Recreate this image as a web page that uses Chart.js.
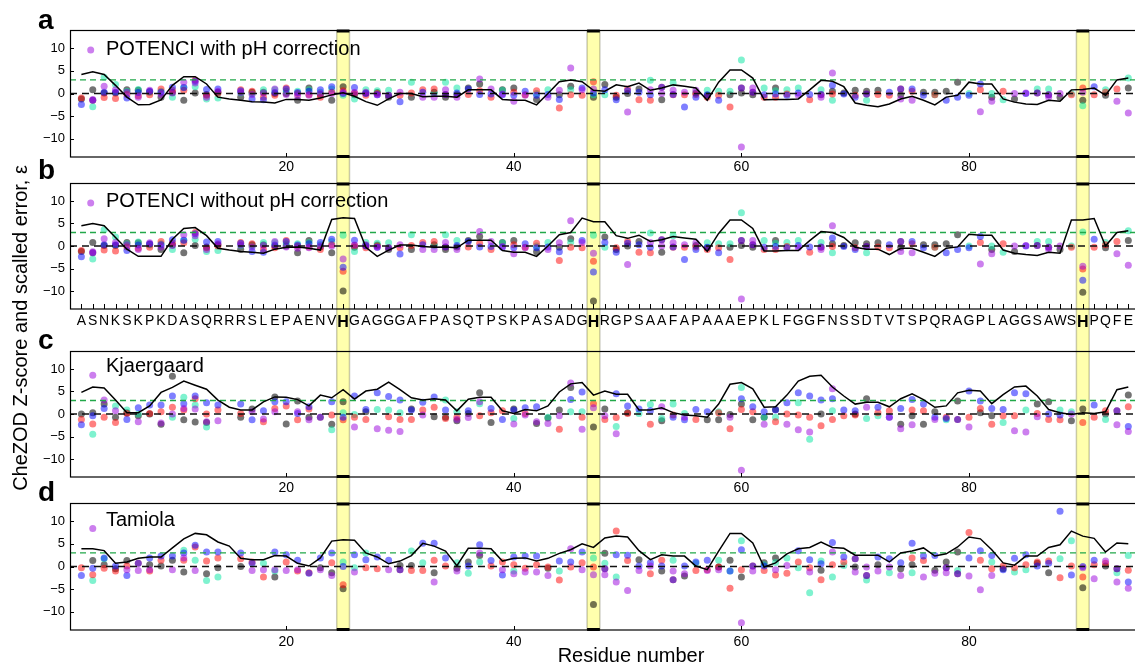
<!DOCTYPE html>
<html lang="en">
<head>
<meta charset="UTF-8">
<title>CheZOD Z-scores and scaled error</title>
<script src="https://cdn.jsdelivr.net/npm/chart.js"></script>
<style>
  html, body { margin: 0; padding: 0; background: #fff; }
  body { width: 1135px; height: 665px; position: relative; overflow: hidden;
         font-family: 'Liberation Sans', Arial, Helvetica, sans-serif; color: #000; }
  canvas { position: absolute; left: 0; }
  .tag { position: absolute; left: 38px; font-size: 28px; font-weight: bold; line-height: 1; }
  #ylab { position: absolute; left: 20px; top: 328px; font-size: 20px; line-height: 1; white-space: nowrap;
          transform: translate(-50%, -50%) rotate(-90deg); }
  #xlab { position: absolute; left: 631px; top: 645px; font-size: 20px; line-height: 1; white-space: nowrap;
          transform: translateX(-50%); }
</style>
</head>
<body>
<canvas id="pA" width="1140" height="172" style="top:0px"></canvas>
<canvas id="pB" width="1140" height="163" style="top:172px"></canvas>
<canvas id="pC" width="1140" height="162" style="top:335px"></canvas>
<canvas id="pD" width="1140" height="168" style="top:497px"></canvas>

<div class="tag" style="top:6px">a</div>
<div class="tag" style="top:156px">b</div>
<div class="tag" style="top:326px">c</div>
<div class="tag" style="top:478px">d</div>
<div id="ylab">CheZOD Z-score and scalled error, ε</div>
<div id="xlab">Residue number</div>

<script>
const _ = null;

// residues 2..94
const sequence = "ASNKSKPKDASQRRRSLEPAENVHGAGGGAFPASQTPSKPASADGHRGPSAAFAPAAAEPKLFGGFNSSDTVTSPQRAGPLAGGSAWSHPQFE";
const firstResidue = 2;
const hisResidues = [25, 47, 90];
const xTicks = [20, 40, 60, 80];
const yTicks = [-10, -5, 0, 5, 10];
const zeroLevel = 0;
const cutoffLevel = 3;

// a: POTENCI with pH correction
const phViolet = [
  _, -1.3, 1.6, 0.8, 0.3, -0.8, 0.7, -0.2, 0.1, 2.5,
  2.3, -0.8, 0.5, _, 0.2, -0.2, 0.1, 1.0, -0.2, -0.5,
  -0.4, 0.0, 0.0, 0.3, 0.2, 0.3, -0.3, _, 0.3, _,
  -0.8, -0.8, 0.8, -0.8, _, 3.2, 1.0, -0.1, -1.7, -0.4,
  _, -0.8, 0.7, 5.6, 0.8, 1.0, _, _, -4.1, _,
  0.8, 0.0, 0.7, 0.3, 0.7, _, _, _, -11.8, 1.2,
  _, _, _, -0.4, _, -0.8, 4.5, _, _, _,
  _, _, -1.2, -1.5, _, _, _, _, _, -4.0,
  -1.7, _, 0.0, 0.1, _, -0.8, 0.0, _, 0.3, _,
  _, -1.7, -4.3];
const phBlue = [
  -2.4, -1.5, 0.3, 0.3, -1.0, 0.2, 0.5, 0.3, 1.4, 1.3,
  2.7, 0.9, 1.0, _, 0.6, -1.2, -1.4, 0.2, 1.0, 0.2,
  0.5, 0.8, 1.5, 0.0, 1.3, 0.0, -0.3, -0.4, -1.8, _,
  0.3, _, -0.2, 0.1, 1.0, -0.2, -0.1, -0.3, -0.4, 0.5,
  -0.4, -0.2, -1.3, _, 1.2, 0.1, 0.8, -1.4, 0.6, 0.3,
  -0.3, 1.4, -0.2, -3.0, -0.8, -0.3, -1.5, _, 1.2, 0.3,
  -0.3, -0.1, -0.4, 0.1, -0.2, -0.2, 1.8, -0.1, -0.8, -0.1,
  _, 0.3, 1.0, 1.0, -0.4, _, -1.5, -0.8, -0.4, 2.1,
  _, _, _, 0.0, 0.1, -0.3, _, _, _, 1.5,
  _, _, _];
const phRed = [
  -1.0, -1.5, -0.9, -1.1, -0.2, -0.5, -0.3, 1.0, 0.7, 0.7,
  3.0, -0.4, 0.0, _, 0.8, 0.5, -0.8, -0.4, 1.2, 0.0,
  -0.2, -0.8, 0.3, 0.6, 0.1, -0.4, 0.0, -0.4, -0.4, 0.1,
  0.8, 1.0, -0.2, _, -0.2, 0.6, -0.8, _, 0.3, -0.3,
  0.6, _, -3.2, -0.3, -0.4, 2.6, _, -0.4, 1.0, -1.4,
  -1.5, 1.4, -0.3, -0.3, -0.2, -0.8, -0.4, -3.0, 1.2, 0.3,
  -0.8, -0.8, -0.1, _, -1.4, -0.3, -0.1, _, -0.4, -0.1,
  -0.2, -0.4, 1.0, 0.5, _, -0.3, _, _, _, 0.8,
  _, 0.5, _, _, 0.1, -0.3, _, -0.3, 1.2, -0.3,
  0.3, 1.0, _];
const phAqua = [
  _, -2.9, 3.6, 2.0, 0.5, 0.9, 0.2, 0.5, -0.8, 1.3,
  1.5, -1.2, -1.0, _, 0.1, 0.0, 0.8, 0.8, 0.5, 0.5,
  0.8, 0.3, 1.0, -0.4, -1.2, 0.8, 0.6, 0.7, _, 2.5,
  _, 0.0, 2.5, 1.2, _, _, _, 0.7, _, _,
  0.0, 0.8, _, 0.8, _, -0.3, -0.3, _, _, _,
  2.9, _, 2.3, _, _, 0.7, 0.5, 0.5, 7.4, _,
  1.2, 0.6, 0.8, 1.2, _, 0.8, -1.5, _, _, -1.5,
  _, _, _, _, _, -0.3, _, _, 0.0, _,
  0.0, -1.4, _, _, 1.0, 1.0, _, 0.0, -2.7, _,
  0.8, _, 3.4];
const phGrey = [
  -1.2, 0.8, 0.1, 0.1, 0.8, 0.7, 0.4, -0.8, 0.2, -1.5,
  0.1, -0.2, 0.3, _, -0.8, 0.3, 0.3, 0.0, 0.0, -1.5,
  1.2, -0.2, -1.5, 1.5, -0.3, 0.1, 0.2, -0.8, _, -0.8,
  _, 0.3, -0.8, -0.2, 1.2, 2.1, _, 0.8, 1.2, _,
  -1.3, _, -0.3, 1.6, _, -0.8, 2.0, -0.8, 0.0, 1.0,
  _, -1.4, _, _, 0.1, -0.4, _, -0.3, 0.1, -0.3,
  _, 1.2, _, _, _, _, 0.5, 0.1, 0.7, 0.5,
  0.7, _, -0.3, _, 0.3, 0.3, 0.5, 2.5, _, _,
  -0.8, _, -1.2, _, _, _, -0.8, _, -1.5, _,
  -0.4, _, 1.2];
const linePH = [
  4.2, 4.8, 4.2, 1.8, -0.8, -2.5, -2.4, -1.4, 1.8, 3.7,
  3.7, 2.1, -0.8, -1.2, -1.5, -1.8, -1.9, -2.1, -1.3, -1.3,
  -1.5, -1.0, -0.3, 0.15, -0.6, -1.8, -2.6, -1.2, 0.0, 0.0,
  -0.7, -0.6, -0.6, -0.8, 0.8, 0.8, 0.8, -1.3, -1.5, -1.5,
  -2.5, 0.0, 2.6, 3.0, 2.6, 0.7, 0.5, 1.9, 1.5, 2.3,
  0.7, 1.2, 1.9, 1.6, 1.2, -1.5, 2.5, 5.2, 5.2, 3.4,
  -1.4, -1.3, -1.3, -1.2, 0.8, 2.9, 2.7, 1.5, -2.1, -2.6,
  -2.9, -2.3, -1.2, -0.6, -1.5, -2.5, -0.8, -0.4, 2.5, 2.1,
  2.1, -1.2, -1.9, -2.3, -2.4, -1.5, -1.7, 0.8, 0.9, 1.2,
  -0.4, 3.0, 3.4];

// b: POTENCI without pH correction (same as a except at the histidines)
const noPhHisViolet = [-2.9, -1.6, -4.5];
const noPhHisBlue = [-4.7, -5.8, -7.6];
const noPhHisRed = [-5.6, -3.4, -5.1];
const noPhHisAqua = [2.4, 2.4, 3.1];
const noPhHisGrey = [-10.0, -12.2, -10.3];
const lineNoPH = [
  4.5, 5.0, 4.5, 1.9, -0.7, -2.3, -2.3, -2.3, 1.5, 3.9,
  4.1, 2.3, -0.5, -0.9, -1.2, -1.4, -1.6, -0.7, -0.3, -0.2,
  -0.5, -0.9, 5.9, 6.3, 6.1, -0.3, -2.3, -0.9, 0.2, 0.2,
  -0.1, -0.3, -0.2, -0.4, 1.3, 1.3, 1.3, -1.0, -1.4, -1.4,
  -2.3, 0.0, 2.5, 3.0, 6.2, 5.4, 5.4, 2.3, 1.7, 2.4,
  1.0, 1.4, 2.1, 1.8, 1.5, -1.2, 2.8, 5.8, 5.8, 3.9,
  -1.1, -1.1, -1.0, -1.0, 1.2, 3.2, 3.0, 1.9, -0.3, -0.7,
  -0.7, -1.9, -0.5, -0.5, -1.4, -2.3, -0.5, -0.2, 2.6, 2.4,
  2.4, -0.9, -1.6, -1.9, -2.1, -1.4, -1.6, 5.8, 5.8, 6.1,
  0.0, 3.0, 3.4];

// c: Kjaergaard
const kjViolet = [
  _, 8.6, 3.1, 0.7, _, -1.7, _, -2.0, 0.0, 1.2,
  1.1, -1.7, -1.5, _, _, 0.5, -1.1, 0.5, _, 0.5,
  -1.3, _, _, _, -2.9, _, -3.3, -3.6, -3.9, _,
  -0.2, _, _, -1.2, -0.8, 2.7, _, _, -2.2, -0.2,
  -1.7, -2.1, -0.4, 6.9, -3.4, 1.4, -0.4, -4.4, _, _,
  _, 1.6, _, -0.7, _, _, _, -0.7, -12.5, _,
  -2.3, _, -2.3, -3.5, -4.0, _, 5.6, _, _, 1.5,
  _, -0.7, -3.3, -2.4, _, -1.2, _, _, -2.9, _,
  _, _, -3.7, -4.0, -0.6, _, _, 0.0, _, _,
  _, -2.4, -3.9];
const kjBlue = [
  -2.4, -0.4, 1.2, _, -1.2, 1.4, 2.0, 2.0, 4.0, 2.3,
  4.0, 2.5, 2.0, _, 2.2, -1.3, 0.7, 2.7, 2.7, 0.1,
  1.6, -0.7, 2.7, -0.7, 4.0, 1.0, 4.7, 3.9, 3.1, 0.9,
  2.6, 3.8, 0.9, _, 0.7, _, 1.2, -1.2, 0.9, 1.4,
  1.6, _, _, 3.2, 4.9, _, _, 4.5, 1.8, 1.1,
  0.7, _, -0.7, -1.3, 1.0, 0.5, _, _, 3.4, 1.6,
  0.5, 0.9, 2.5, 4.7, 4.0, 3.1, 3.4, 0.9, 0.7, _,
  1.5, -0.7, 1.2, 3.2, 2.2, -0.7, -1.0, -1.2, 5.1, 2.9,
  1.2, 1.0, 4.7, 4.5, _, 0.0, -0.2, _, _, 2.0,
  _, 0.7, -2.8];
const kjRed = [
  -1.2, -2.2, -0.7, -1.9, 0.1, _, 0.1, 0.5, 1.5, 0.9,
  3.4, 0.0, 0.9, _, 0.1, _, -1.7, 1.2, 1.8, -1.3,
  1.1, -0.7, -0.2, -1.3, -0.7, -1.2, _, -0.6, -1.2, -1.2,
  0.9, 1.5, -1.0, -0.7, _, -0.4, 0.3, 0.7, _, 0.1,
  _, _, -3.4, _, -0.7, 2.3, -1.2, -0.8, 0.1, _,
  -2.3, _, -0.2, _, -1.2, _, 0.3, -3.3, 1.0, 0.5,
  _, -1.7, 0.0, -0.2, -0.7, -2.6, -1.2, -0.4, -0.2, _,
  0.3, 0.7, _, 0.9, 0.7, _, -0.7, -1.2, -0.7, 1.2,
  -2.3, -0.4, -0.4, _, 0.1, -1.2, -1.3, _, -1.9, -0.7,
  0.7, 0.7, 1.6];
const kjAqua = [
  _, -4.5, _, 1.8, 0.9, 0.0, _, _, -0.7, 3.7,
  2.0, -2.9, _, _, _, _, _, _, _, _,
  _, _, -3.5, 0.3, -0.1, _, 1.0, 0.9, 0.3, _,
  _, _, 3.1, 0.5, _, 2.3, _, _, -1.0, _,
  _, -0.7, _, 0.5, 0.5, _, _, -2.8, _, 0.1,
  2.1, -1.0, 2.2, 0.1, _, _, 0.5, _, 5.9, _,
  -0.7, -0.7, _, 2.5, -5.6, _, 0.7, _, _, -1.0,
  -0.4, _, _, _, _, _, -1.3, _, _, _,
  _, -1.9, _, 0.9, _, _, 0.9, 0.5, _, _,
  -1.2, _, _];
const kjGrey = [
  0.0, 0.3, 2.2, -0.7, 0.3, -0.4, 0.0, -2.3, 8.4, -1.3,
  -1.8, -1.9, _, _, -0.7, 1.1, _, 3.8, -2.2, 2.9,
  -0.7, _, -2.3, 2.7, _, 0.5, _, _, _, 1.1,
  _, -0.6, -0.7, -1.5, 0.1, 4.7, -1.9, _, 1.1, _,
  -2.1, -0.9, 0.9, 5.9, _, -2.9, 1.1, _, 0.3, _,
  _, -1.5, _, _, _, -1.3, -1.3, -0.1, 2.2, -1.3,
  -0.7, 1.0, _, _, _, 0.0, _, _, 0.0, 3.4,
  _, _, -2.3, -0.4, -2.3, 0.5, _, 2.9, _, 0.3,
  -0.4, _, _, _, 2.2, 2.7, _, -1.5, 1.1, _,
  0.0, _, 4.2];
const lineKj = [
  4.8, 6.0, 5.8, 3.1, 0.3, 0.3, 1.8, 4.8, 5.9, 7.3,
  6.4, 5.5, 3.1, 1.5, 0.9, 0.9, 2.7, 3.8, 3.7, 3.2,
  1.8, 4.2, 3.6, 5.4, 3.3, 5.1, 5.5, 7.1, 5.4, 3.6,
  3.1, 3.4, 3.1, 0.7, 3.3, 3.7, 3.7, 0.7, 0.1, 1.0,
  0.7, 1.8, 4.9, 6.7, 7.0, 4.2, 5.1, 4.4, 4.4, 0.9,
  0.9, 1.4, 0.3, -0.2, -0.4, -0.7, 2.2, 6.6, 7.0, 5.6,
  1.5, 1.6, 4.2, 7.3, 8.4, 8.6, 6.0, 4.0, 2.2, 2.6,
  2.6, 1.6, 3.4, 4.5, 3.2, 1.5, 1.8, 4.7, 5.3, 5.1,
  2.3, 4.3, 6.0, 6.2, 4.0, 1.0, 0.3, -0.1, 0.3, 0.1,
  0.5, 5.4, 6.0];

// d: Tamiola
const tmViolet = [
  _, 8.4, _, _, -0.7, -0.9, -0.7, _, -0.7, 1.9,
  -0.9, _, _, _, _, -0.9, -0.7, -0.7, -0.9, -0.7,
  _, -0.7, -2.0, _, -1.2, _, _, -0.7, _, _,
  _, -3.4, _, -1.0, _, 3.0, _, -0.7, -1.6, -1.2,
  -1.2, -2.0, _, 3.9, -0.7, -1.8, -1.8, -3.4, -5.3, -0.9,
  0.1, _, -1.0, -1.6, _, -0.9, -0.7, _, -12.4, -1.0,
  _, -0.7, 0.2, _, -1.2, _, 3.2, _, -1.2, -0.1,
  -1.0, -0.1, -2.0, _, -2.3, -1.5, -1.4, _, -2.1, -5.1,
  -2.0, _, _, _, _, _, _, _, -0.3, -2.7,
  1.2, -3.4, -4.8];
const tmBlue = [
  -2.0, -0.4, 1.9, 0.1, -2.0, 0.7, 1.9, 2.3, 2.3, 3.0,
  4.7, 3.2, 3.2, _, 3.0, 0.7, _, 3.2, 2.6, 1.4,
  -1.5, 1.9, 3.0, 0.0, 2.6, 1.5, 2.1, 1.4, -0.7, _,
  5.1, 5.1, 1.9, _, 0.1, 4.8, 1.3, -1.9, 2.1, 2.3,
  2.3, _, 1.2, 1.0, 3.2, _, -0.5, 2.6, 2.5, 0.1,
  0.8, 0.1, -2.9, 0.1, 1.0, 1.4, _, -1.0, 3.7, 0.1,
  0.1, _, _, 3.5, 1.5, 0.6, 5.3, 2.1, 1.7, -2.0,
  2.1, 1.7, 0.8, 5.1, 2.3, 2.4, -0.3, -1.6, 1.9, 3.5,
  2.4, -0.7, 1.8, 2.6, 0.1, 0.7, 12.2, -1.9, 0.0, 1.4,
  _, -0.5, -3.4];
const tmRed = [
  -0.3, -1.8, -0.4, -1.0, 0.1, 0.7, -1.0, 1.4, _, 1.4,
  4.3, 1.2, 1.9, _, 1.7, 1.0, -2.3, _, 1.0, -1.0,
  -1.4, _, 0.8, -4.0, _, -0.3, -0.5, _, -0.7, -0.9,
  -0.9, 1.4, 0.1, _, _, _, 0.1, 1.0, 0.4, -0.4,
  0.4, -0.1, -3.0, -0.1, 0.8, -0.1, -0.5, 7.8, 1.3, _,
  -1.6, 1.4, -2.9, _, -0.9, -0.7, -0.1, -4.8, -0.7, 0.1,
  -0.9, -1.9, -1.5, 1.0, -0.3, -2.9, 0.4, 1.0, 1.7, -2.0,
  _, _, _, 1.9, 1.3, _, -0.3, -1.6, 7.5, 1.4,
  -0.5, 0.1, -0.3, 0.4, 1.0, 1.2, -2.5, 0.1, -2.3, 0.4,
  0.7, -0.5, -0.8];
const tmAqua = [
  _, -3.1, 1.7, _, _, _, _, _, _, 3.6,
  1.4, -3.1, -2.3, _, _, _, 0.7, -1.0, _, _,
  _, _, _, 1.0, -0.3, 3.0, _, _, _, 3.4,
  0.8, _, _, 0.8, -1.5, 1.0, _, _, -1.0, _,
  _, _, -1.0, _, _, 1.9, 0.7, -2.3, _, _,
  _, _, 1.4, _, 0.7, _, 1.4, -1.0, 5.7, _,
  0.4, 0.9, 1.9, -0.3, -5.8, 1.2, -2.3, 0.2, _, -3.0,
  _, -1.4, _, -1.4, _, _, _, -0.9, _, _,
  1.0, _, -1.2, -0.7, _, _, 1.7, 5.7, _, _,
  _, -1.4, 2.4];
const tmGrey = [
  _, 1.3, 0.4, -0.5, 1.3, _, 0.4, 0.1, 1.4, -1.2,
  _, -1.6, -0.3, _, 0.0, _, _, -2.3, _, _,
  _, -0.3, -1.4, -4.9, _, _, _, _, 0.2, 0.2,
  _, -1.4, _, -0.4, 1.0, 2.4, _, _, _, _,
  _, -0.4, _, _, _, -8.4, 2.9, _, _, 1.5,
  _, -1.0, _, -2.1, _, _, -0.1, 1.4, -2.3, _,
  0.8, 1.9, _, _, _, -0.8, _, _, -0.1, _,
  0.4, _, -0.5, 0.4, _, -0.8, 1.0, 3.2, _, _,
  _, -0.5, _, _, 0.7, -1.4, _, _, -4.7, _,
  0.1, _, _];
const lineTm = [
  3.9, 3.9, 3.5, 0.7, 1.0, 1.8, 2.1, 2.1, 4.1, 6.1,
  7.3, 7.0, 5.4, 4.5, 1.8, 1.5, 1.5, 2.4, 2.3, 0.7,
  0.1, 1.9, 5.6, 5.9, 5.8, 3.0, 2.1, 0.6, 1.2, 2.4,
  5.1, 4.5, 3.4, 0.2, 4.0, 4.0, 3.9, 1.2, 1.8, 1.9,
  1.2, 1.8, 2.9, 3.7, 5.0, 4.2, 6.3, 6.7, 6.5, 3.5,
  1.5, 2.6, 2.3, 2.3, 0.1, -0.7, 3.4, 7.3, 7.3, 5.2,
  -0.1, 0.8, 2.8, 3.9, 4.2, 5.4, 4.2, 4.0, 2.5, 2.5,
  2.5, 1.0, 3.0, 3.4, 4.1, 2.3, 2.8, 4.3, 6.5, 6.1,
  3.7, 0.8, 0.3, 2.3, 2.3, 4.2, 4.8, 7.8, 6.7, 6.2,
  3.2, 5.2, 5.0];

const seriesColors = ['rgba(153,0,221,0.5)', 'rgba(0,0,255,0.5)', 'rgba(255,0,0,0.5)',
                      'rgba(0,230,160,0.5)', 'rgba(0,0,0,0.55)'];
const FONT = "'Liberation Sans', Arial, Helvetica, sans-serif";
const xMin = 1, xMax = 94.72, yMin = -14, yMax = 14;
const bandHalf = 0.56;

function withHis(base, his) {
  const out = base.slice();
  hisResidues.forEach((r, i) => { out[r - firstResidue] = his[i]; });
  return out;
}
function toPoints(values) {
  const pts = [];
  values.forEach((v, i) => { if (v !== null) pts.push({ x: firstResidue + i, y: v }); });
  return pts;
}

const panelDecor = {
  id: 'panelDecor',
  beforeDraw(chart, args, o) {
    const { ctx, chartArea: a, scales: { x } } = chart;
    const y0 = o.bandFromArea ? a.top : 0;
    const y1 = o.bandToArea ? a.bottom : chart.height;
    ctx.save();
    hisResidues.forEach(r => {
      const l = x.getPixelForValue(r - bandHalf);
      const w = x.getPixelForValue(r + bandHalf) - l;
      ctx.fillStyle = 'rgba(255,255,0,0.32)';
      ctx.fillRect(l, y0, w, y1 - y0);
      ctx.strokeStyle = 'rgba(80,80,50,0.3)';
      ctx.lineWidth = 1.5;
      ctx.beginPath();
      ctx.moveTo(l, y0); ctx.lineTo(l, y1);
      ctx.moveTo(l + w, y0); ctx.lineTo(l + w, y1);
      ctx.stroke();
    });
    ctx.restore();
  },
  afterDraw(chart, args, o) {
    const { ctx, chartArea: a, scales: { x, y } } = chart;
    ctx.save();
    ctx.strokeStyle = '#000';
    ctx.lineWidth = 1.2;
    ctx.strokeRect(a.left + 0.5, a.top + 0.5, a.width + 10, a.height - 0.5);
    // inward tick marks
    ctx.lineWidth = 1;
    ctx.beginPath();
    x.ticks.forEach(t => {
      const px = Math.round(x.getPixelForValue(t.value)) + 0.5;
      ctx.moveTo(px, a.bottom); ctx.lineTo(px, a.bottom - o.tickLen);
    });
    y.ticks.forEach(t => {
      const py = Math.round(y.getPixelForValue(t.value)) + 0.5;
      ctx.moveTo(a.left, py); ctx.lineTo(a.left + 4, py);
    });
    ctx.stroke();
    // dark caps of the histidine bands on the spines
    ctx.fillStyle = '#000';
    hisResidues.forEach(r => {
      const l = x.getPixelForValue(r - bandHalf);
      const w = x.getPixelForValue(r + bandHalf) - l;
      if (o.capTop) ctx.fillRect(l, a.top - 0.5, w, 3);
      if (o.capBottom) ctx.fillRect(l, a.bottom - 2, w, 3);
    });
    // panel legend
    ctx.font = '20px ' + FONT;
    ctx.textBaseline = 'alphabetic';
    ctx.fillText(o.label, 106, a.top + o.labelDy);
    if (o.marker) {
      ctx.fillStyle = seriesColors[0];
      ctx.beginPath();
      ctx.arc(90.7, a.top + o.marker, 3.5, 0, Math.PI * 2);
      ctx.fill();
    }
    ctx.restore();
  }
};

const panels = [
  { id: 'pA', padTop: 30, axisH: 15, tickPad: 2, tickLen: 4, seq: false,
    label: 'POTENCI with pH correction', labelDy: 25, marker: 20,
    capTop: true, capBottom: true, bandFromArea: true, bandToArea: false,
    series: [phViolet, phBlue, phRed, phAqua, phGrey], line: linePH },
  { id: 'pB', padTop: 11, axisH: 26, tickPad: 4, tickLen: 5, seq: true,
    label: 'POTENCI without pH correction', labelDy: 24, marker: 20,
    capTop: true, capBottom: false, bandFromArea: false, bandToArea: false,
    series: [withHis(phViolet, noPhHisViolet), withHis(phBlue, noPhHisBlue), withHis(phRed, noPhHisRed),
             withHis(phAqua, noPhHisAqua), withHis(phGrey, noPhHisGrey)], line: lineNoPH },
  { id: 'pC', padTop: 16, axisH: 20, tickPad: 3, tickLen: 4, seq: false,
    label: 'Kjaergaard', labelDy: 21, marker: 0,
    capTop: false, capBottom: true, bandFromArea: false, bandToArea: false,
    series: [kjViolet, kjBlue, kjRed, kjAqua, kjGrey], line: lineKj },
  { id: 'pD', padTop: 6, axisH: 35, tickPad: 4, tickLen: 4, seq: false,
    label: 'Tamiola', labelDy: 23, marker: 0,
    capTop: true, capBottom: true, bandFromArea: false, bandToArea: true,
    series: [tmViolet, tmBlue, tmRed, tmAqua, tmGrey], line: lineTm }
];

panels.forEach(p => {
  const datasets = p.series.map((vals, i) => ({
    data: toPoints(vals),
    backgroundColor: seriesColors[i],
    borderColor: 'transparent',
    pointBorderWidth: 0,
    pointRadius: 3.5,
    pointHoverRadius: 3.5,
    order: 3
  }));
  datasets.push({
    data: [{ x: xMin, y: cutoffLevel }, { x: xMax, y: cutoffLevel }],
    showLine: true, borderColor: '#22a84a', borderWidth: 1.3, borderDash: [6, 4],
    pointRadius: 0, order: 2
  });
  datasets.push({
    data: [{ x: xMin, y: zeroLevel }, { x: xMax, y: zeroLevel }],
    showLine: true, borderColor: '#111', borderWidth: 1.6, borderDash: [7, 5],
    pointRadius: 0, order: 2
  });
  datasets.push({
    data: toPoints(p.line),
    showLine: true, borderColor: '#000', borderWidth: 1.5, tension: 0,
    pointRadius: 0, order: 1
  });

  new Chart(document.getElementById(p.id), {
    type: 'scatter',
    data: { datasets },
    options: {
      responsive: false,
      animation: false,
      devicePixelRatio: 1,
      layout: { padding: { top: p.padTop, left: 0, right: 0, bottom: 0 } },
      plugins: {
        legend: { display: false },
        tooltip: { enabled: false },
        panelDecor: p
      },
      scales: {
        x: {
          type: 'linear', min: xMin, max: xMax,
          grid: { display: false, drawTicks: false },
          border: { display: false },
          afterBuildTicks: s => {
            s.ticks = p.seq ? sequence.split('').map((c, i) => ({ value: firstResidue + i }))
                            : xTicks.map(v => ({ value: v }));
          },
          afterFit: s => { s.height = p.axisH; s.paddingLeft = 0; s.paddingRight = 0; },
          ticks: {
            autoSkip: false, maxRotation: 0, minRotation: 0, padding: p.tickPad, color: '#000',
            font: c => {
              const isHis = p.seq && c.tick && hisResidues.includes(c.tick.value);
              return { family: FONT, size: isHis ? 16 : 14, weight: isHis ? 'bold' : 'normal' };
            },
            callback: v => p.seq ? sequence[v - firstResidue] : String(v)
          }
        },
        y: {
          min: yMin, max: yMax,
          grid: { display: false, drawTicks: false },
          border: { display: false },
          afterBuildTicks: s => { s.ticks = yTicks.map(v => ({ value: v })); },
          afterFit: s => { s.width = 70; s.paddingTop = 0; s.paddingBottom = 0; },
          ticks: {
            padding: 5, color: '#000', font: { family: FONT, size: 13 },
            callback: v => v < 0 ? '\u2212' + Math.abs(v) : String(v)
          }
        }
      }
    },
    plugins: [panelDecor]
  });
});
</script>
</body>
</html>
